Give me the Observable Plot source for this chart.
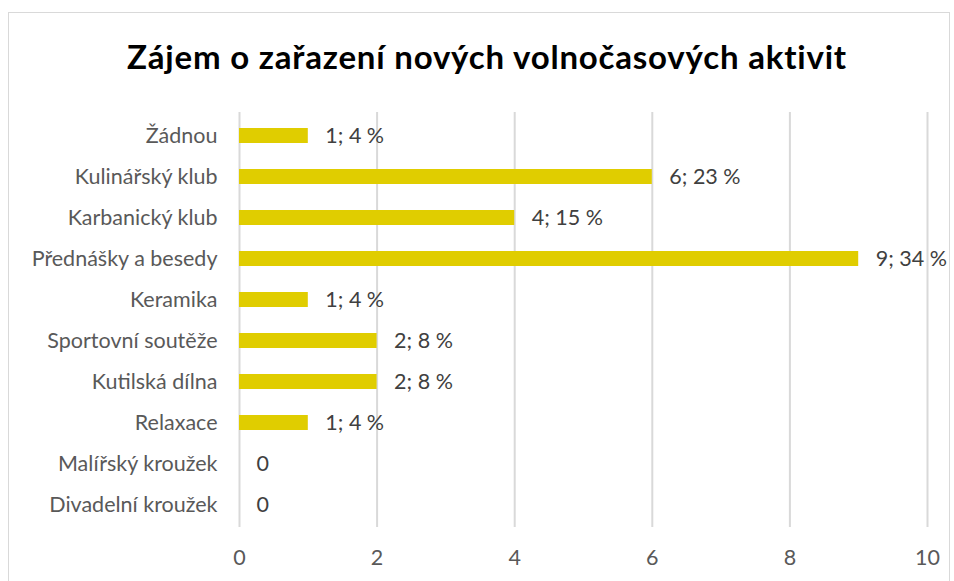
<!DOCTYPE html>
<html>
<head>
<meta charset="utf-8">
<script src="https://cdn.jsdelivr.net/npm/d3@7"></script>
<script src="https://cdn.jsdelivr.net/npm/@observablehq/plot@0.6"></script>
<style>
  html, body { margin: 0; padding: 0; background: #fff; }
  body { width: 954px; height: 581px; position: relative; overflow: hidden; font-family: Lato, "Open Sans", sans-serif; }
  #frame { position: absolute; left: 8px; top: 12px; width: 942px; height: 620px; border: 1px solid #d9d9d9; box-sizing: border-box; }
  #title { position: absolute; left: 10px; top: 40px; width: 954px; text-align: center; font-family: Lato, sans-serif; font-weight: 700; font-size: 33px; letter-spacing: 0.8px; color: #000; line-height: 1; }
  #chart { position: absolute; left: 0; top: 0; }
</style>
</head>
<body>
<div id="frame"></div>
<div id="title">Zájem o zařazení nových volnočasových aktivit</div>
<div id="chart"></div>
<script>
const categories = ["Žádnou", "Kulinářský klub", "Karbanický klub", "Přednášky a besedy", "Keramika", "Sportovní soutěže", "Kutilská dílna", "Relaxace", "Malířský kroužek", "Divadelní kroužek"];
const counts = [1, 6, 4, 9, 1, 2, 2, 1, 0, 0];
const percents = [4, 23, 15, 34, 4, 8, 8, 4, 0, 0];
const xTicks = [0, 2, 4, 6, 8, 10];

const data = categories.map((c, i) => ({
  category: c,
  count: counts[i],
  label: counts[i] === 0 ? "0" : `${counts[i]}; ${percents[i]} %`
}));

const chart = Plot.plot({
  width: 954,
  height: 581,
  marginLeft: 239,
  marginRight: 27,
  marginTop: 112,
  marginBottom: 54,
  style: { fontFamily: "Lato, 'Open Sans', sans-serif", fontSize: "21.5px", color: "#595959", background: "transparent" },
  x: { domain: [0, 10], ticks: xTicks, tickSize: 0, tickPadding: 22, label: null, grid: false },
  y: { domain: categories, tickSize: 0, tickPadding: 22, label: null, paddingInner: 0.64, paddingOuter: 0.3 },
  marks: [
    Plot.ruleX(xTicks, { stroke: "#d9d9d9", strokeWidth: 2 }),
    Plot.barX(data, { x: "count", y: "category", fill: "#E0CD00" }),
    Plot.text(data, { x: "count", y: "category", text: "label", textAnchor: "start", dx: 17, fill: "#404040", fontSize: 21.5 })
  ]
});
document.getElementById("chart").appendChild(chart);
</script>
</body>
</html>
